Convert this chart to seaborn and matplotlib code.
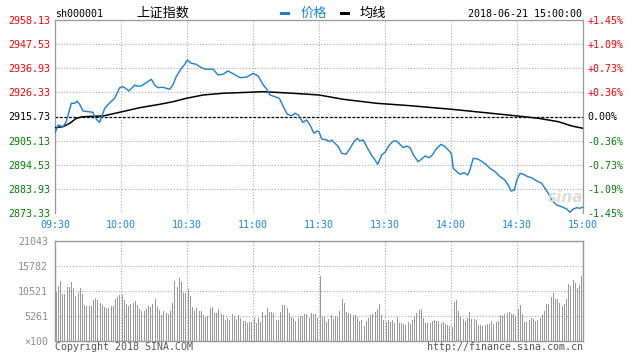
import numpy as np
import pandas as pd
import matplotlib
matplotlib.use("Agg")
import matplotlib.pyplot as plt
from matplotlib.patches import Rectangle
import seaborn as sns

# ---------------- data ----------------
prev_close = 2915.73
price_ticks = [2958.13, 2947.53, 2936.93, 2926.33, 2915.73, 2905.13, 2894.53, 2883.93, 2873.33]
pct_labels = ["+1.45%", "+1.09%", "+0.73%", "+0.36%", "0.00%", "-0.36%", "-0.73%", "-1.09%", "-1.45%"]
time_ticks = [0, 30, 60, 90, 120, 150, 180, 210, 240]
time_labels = ["09:30", "10:00", "10:30", "11:00", "11:30", "13:30", "14:00", "14:30", "15:00"]
vol_ticks = [21043, 15782, 10521, 5261, 0]
vol_labels = ["21043", "15782", "10521", "5261", "×100"]

price_minute = [0, 1.4, 2.4, 3.6, 5.1, 6.4, 7.4, 9.0, 10.0, 11.2,
                12.7, 15.0, 17.3, 18.0, 19.1, 20.3, 21.5, 22.6, 24.9, 27.1,
                28.2, 29.4, 30.9, 32.1, 33.6, 35.1, 36.2, 37.0, 39.2, 41.5,
                43.8, 45.3, 46.8, 49.1, 50.6, 52.1, 53.6, 55.1, 57.4, 59.0,
                60.1, 62.0, 64.2, 65.8, 68.0, 70.3, 71.8, 74.1, 76.4, 78.6,
                80.6, 84.1, 87.3, 90.0, 92.3, 94.7, 96.2, 97.7, 100.0, 102.0,
                103.8, 105.6, 107.6, 109.1, 110.6, 112.6, 114.4, 115.9, 117.7, 119.0,
                120.0, 121.2, 123.5, 125.0, 125.8, 127.3, 128.8, 130.3, 132.3, 134.1,
                135.9, 137.4, 138.6, 140.1, 141.7, 144.0, 145.5, 146.7, 148.5, 150.0,
                152.0, 153.8, 155.3, 156.8, 158.3, 159.9, 161.4, 162.9, 165.1, 166.7,
                168.2, 170.0, 171.5, 173.5, 175.5, 177.3, 179.5, 180.3, 181.0, 182.6,
                184.1, 186.0, 187.6, 188.6, 190.1, 192.1, 194.2, 195.8, 197.7, 200.0,
                202.3, 204.5, 206.4, 207.3, 208.8, 209.9, 211.4, 212.9, 214.9, 216.7,
                219.0, 221.2, 222.7, 224.2, 225.8, 228.0, 230.3, 232.6, 234.1, 235.6,
                237.1, 238.6, 240.0]
price_value = [2908.35, 2912.00, 2911.69, 2911.25, 2913.45, 2917.84, 2921.53, 2921.53, 2922.54, 2921.09,
               2918.15, 2917.84, 2917.58, 2915.64, 2914.19, 2913.18, 2916.39, 2919.34, 2921.80, 2923.73,
               2925.93, 2928.39, 2928.83, 2928.12, 2926.94, 2928.39, 2929.57, 2929.13, 2929.13, 2930.58,
               2932.08, 2929.57, 2928.39, 2928.56, 2928.12, 2927.68, 2929.57, 2933.22, 2936.91, 2938.67,
               2940.56, 2939.11, 2938.67, 2937.61, 2936.60, 2936.47, 2936.60, 2933.97, 2934.27, 2935.72,
               2934.71, 2932.78, 2933.09, 2934.71, 2933.53, 2929.57, 2927.82, 2925.18, 2924.43, 2923.73,
               2920.04, 2916.70, 2916.08, 2917.14, 2916.39, 2913.18, 2914.19, 2912.00, 2908.35, 2909.36,
               2909.05, 2905.85, 2905.41, 2904.66, 2905.41, 2903.96, 2902.46, 2899.56, 2899.12, 2901.76,
               2904.66, 2906.15, 2904.97, 2905.41, 2902.46, 2898.51, 2896.62, 2894.73, 2898.82, 2900.00,
               2903.21, 2904.97, 2904.97, 2903.52, 2902.02, 2902.77, 2902.02, 2898.82, 2895.87, 2897.06,
               2898.38, 2897.63, 2898.82, 2901.76, 2903.52, 2902.46, 2900.27, 2898.82, 2892.97, 2891.48,
               2890.34, 2891.04, 2890.03, 2892.23, 2897.37, 2897.06, 2895.87, 2894.73, 2892.97, 2891.48,
               2889.28, 2887.83, 2884.89, 2883.00, 2883.44, 2887.83, 2890.77, 2890.34, 2889.28, 2888.84,
               2887.39, 2886.38, 2884.18, 2881.99, 2879.04, 2876.85, 2876.10, 2875.09, 2873.64, 2875.09,
               2875.66, 2875.40, 2875.97]

avg_minute = [0, 3.6, 6.7, 9.7, 12.7, 21.8, 29.4, 38.5, 47.6, 53.6, 59.7, 67.3, 76.4,
              94.7, 108.3, 120.0, 131.0, 146.2, 161.4, 180.3, 209.1, 219.7, 228.8, 234.9, 240.0]
avg_value = [2910.81, 2911.25, 2912.74, 2914.94, 2915.64, 2915.95, 2917.58, 2919.60, 2921.09,
             2922.23, 2923.73, 2925.18, 2925.93, 2926.63, 2925.93, 2925.18, 2923.29, 2921.53,
             2920.48, 2918.90, 2916.08, 2914.94, 2913.45, 2911.56, 2910.55]

volume = [10381, 11573, 12625, 9890, 9890, 11293, 11293, 12415, 11082, 9469,
          10030, 11082, 9890, 7575, 7365, 7365, 7365, 8627, 9048, 8627,
          8066, 7575, 7084, 6874, 6874, 7365, 7365, 8838, 9329, 9679,
          9679, 8627, 7786, 7365, 7786, 7926, 8417, 7505, 6733, 6313,
          6313, 6663, 7365, 7084, 7786, 8768, 7224, 6523, 5471, 6383,
          5962, 5681, 6383, 8066, 12625, 11433, 13256, 12415, 10170, 10170,
          10942, 9469, 7224, 6383, 6944, 6383, 6383, 5471, 5120, 5260,
          6944, 7224, 5962, 5962, 6733, 5681, 5401, 4419, 4840, 4419,
          5681, 5260, 4699, 5401, 4840, 4208, 4208, 3858, 3998, 3998,
          4840, 3858, 4840, 3998, 6102, 5471, 6944, 6102, 6102, 5822,
          4419, 4419, 6102, 7575, 7575, 6944, 5822, 5120, 4840, 4279,
          4840, 5260, 5260, 5681, 5681, 4840, 5962, 5681, 5681, 4840,
          13677, 5120, 4980, 3998, 4629, 5401, 4559, 5260, 5120, 6313,
          8838, 7996, 6102, 5892, 5681, 5401, 5401, 5120, 4279, 4419,
          3156, 4279, 4840, 5401, 5681, 6102, 6733, 7786, 5401, 4419,
          4068, 4419, 3928, 4419, 3788, 5120, 3788, 3788, 3577, 3367,
          3998,
          3577, 4419, 5260, 5962, 6523, 6733, 4840, 3788, 3788, 3788,
          4208, 4419, 4279, 4208, 3788, 3998, 3577, 3367, 3156, 2946,
          8206, 8627, 6313, 5050, 4629, 4208, 4840, 6102, 4629, 4629,
          4419, 3367, 3367, 3156, 3367, 3577, 3577, 4208, 3577, 3998,
          4208, 5401, 5260, 5681, 5962, 6102, 5681, 5681, 5260, 6663,
          7505, 5681, 3998, 3998, 4419, 4840, 4699, 4138, 4419, 4840,
          5401, 6313, 7786, 7786, 9258, 10170, 8838, 8838, 7996, 7365,
          7715, 8838, 11924, 11573, 12836, 12275, 11152, 11854, 13677]

# ---------------- styling ----------------
W, H = 638, 359
BLUE_LINE = "#1c7fd2"
BLUE_TXT = "#1a88dc"
RED = "#ff0000"
GREEN = "#008000"
GRID = "#aaaaaa"
SPINE = "#999999"
MONO = ["DejaVu Sans Mono", "Noto Sans CJK SC"]
CJK = ["Noto Sans CJK SC", "DejaVu Sans"]
FS = 7.2

sns.set_style("white")
plt.rcParams["font.family"] = MONO


def fy(y):
    return 1 - y / H


fig = plt.figure(figsize=(W / 100, H / 100), dpi=100)
fig.patch.set_facecolor("white")

ax = fig.add_axes([55 / W, fy(213), 528 / W, 193 / H])
axv = fig.add_axes([55 / W, fy(341), 528 / W, 100 / H])

# ---- price panel ----
price_df = pd.DataFrame({"minute": price_minute, "price": price_value})
avg_df = pd.DataFrame({"minute": avg_minute, "avg": avg_value})

ax.set_axisbelow(True)
ax.grid(True, color=GRID, linestyle=(0, (1, 1.6)), linewidth=0.8)
ax.axhline(prev_close, color="black", linestyle=(0, (2.2, 1.4)), linewidth=0.9, zorder=2)
sns.lineplot(data=avg_df, x="minute", y="avg", ax=ax, color="black", linewidth=1.1,
             sort=False, estimator=None, zorder=3)
sns.lineplot(data=price_df, x="minute", y="price", ax=ax, color=BLUE_LINE, linewidth=1.0,
             sort=False, estimator=None, zorder=4)

ax.set_xlim(0, 240)
ax.set_ylim(price_ticks[-1], price_ticks[0])
ax.set_xticks(time_ticks)
ax.set_xticklabels(time_labels)
ax.set_yticks(price_ticks)
ax.set_yticklabels([f"{v:.2f}" for v in price_ticks])
ax.set_xlabel("")
ax.set_ylabel("")
ax.tick_params(axis="both", length=0, labelsize=FS)
ax.tick_params(axis="x", pad=5, colors=BLUE_TXT)
ax.tick_params(axis="y", pad=3.5)


def level_color(v):
    if abs(v - prev_close) < 1e-6:
        return "black"
    return RED if v > prev_close else GREEN


for lab, v in zip(ax.get_yticklabels(), price_ticks):
    lab.set_color(level_color(v))

for sp in ["left", "top", "right", "bottom"]:
    ax.spines[sp].set_color(SPINE)
    ax.spines[sp].set_linewidth(0.9)
ax.spines["bottom"].set_visible(False)

ax2 = ax.twinx()
ax2.set_ylim(ax.get_ylim())
ax2.set_yticks(price_ticks)
ax2.set_yticklabels(pct_labels)
ax2.tick_params(axis="y", length=0, labelsize=FS, pad=3)
ax2.grid(False)
for sp in ax2.spines.values():
    sp.set_visible(False)
for lab, v in zip(ax2.get_yticklabels(), price_ticks):
    lab.set_color(level_color(v))

# ---- volume panel ----
vol_df = pd.DataFrame({"minute": np.arange(len(volume)) + 0.5, "vol": volume})
axv.set_axisbelow(True)
sns.barplot(data=vol_df, x="minute", y="vol", ax=axv, native_scale=True,
            color="#999999", saturation=1, width=0.5, errorbar=None, linewidth=0,
            antialiased=False)
axv.grid(True, color=GRID, linestyle=(0, (1, 1.6)), linewidth=0.8)
axv.set_xlim(0, 240)
axv.set_ylim(0, vol_ticks[0])
axv.set_xticks(time_ticks)
axv.set_xticklabels([])
axv.set_yticks(vol_ticks)
axv.set_yticklabels(vol_labels)
axv.set_xlabel("")
axv.set_ylabel("")
axv.tick_params(axis="both", length=0, labelsize=FS, colors="#8c8c8c")
axv.tick_params(axis="y", pad=5)
for sp in axv.spines.values():
    sp.set_visible(True)
    sp.set_color(SPINE)
    sp.set_linewidth(1.0)

# ---- header ----
fig.text(55 / W, fy(14), "sh000001", ha="left", va="center", fontsize=FS,
         color="black", family=MONO)
fig.text(136 / W, fy(13.5), "上证指数", ha="left", va="center", fontsize=9.5,
         color="black", family=CJK)
fig.patches.append(Rectangle((280 / W, fy(15.3)), 10 / W, 3 / H, transform=fig.transFigure,
                             color=BLUE_LINE, linewidth=0))
fig.text(301 / W, fy(13.5), "价格", ha="left", va="center", fontsize=9.5,
         color=BLUE_TXT, family=CJK)
fig.patches.append(Rectangle((340 / W, fy(15.3)), 10 / W, 3 / H, transform=fig.transFigure,
                             color="black", linewidth=0))
fig.text(360 / W, fy(13.5), "均线", ha="left", va="center", fontsize=9.5,
         color="black", family=CJK)
fig.text(582 / W, fy(14), "2018-06-21 15:00:00", ha="right", va="center", fontsize=FS,
         color="black", family=MONO)

# watermark
fig.text(566 / W, fy(197), "sina", ha="center", va="center", fontsize=11,
         style="italic", weight="bold", color="#dddddd", family=["DejaVu Sans"], zorder=0)

# ---- footer ----
fig.text(55 / W, fy(347), "Copyright 2018 SINA.COM", ha="left", va="center",
         fontsize=FS, color="#555555", family=MONO)
fig.text(583 / W, fy(347), "http://finance.sina.com.cn", ha="right", va="center",
         fontsize=FS, color="#555555", family=MONO)

fig.savefig("out.png", dpi=100, facecolor="white")
